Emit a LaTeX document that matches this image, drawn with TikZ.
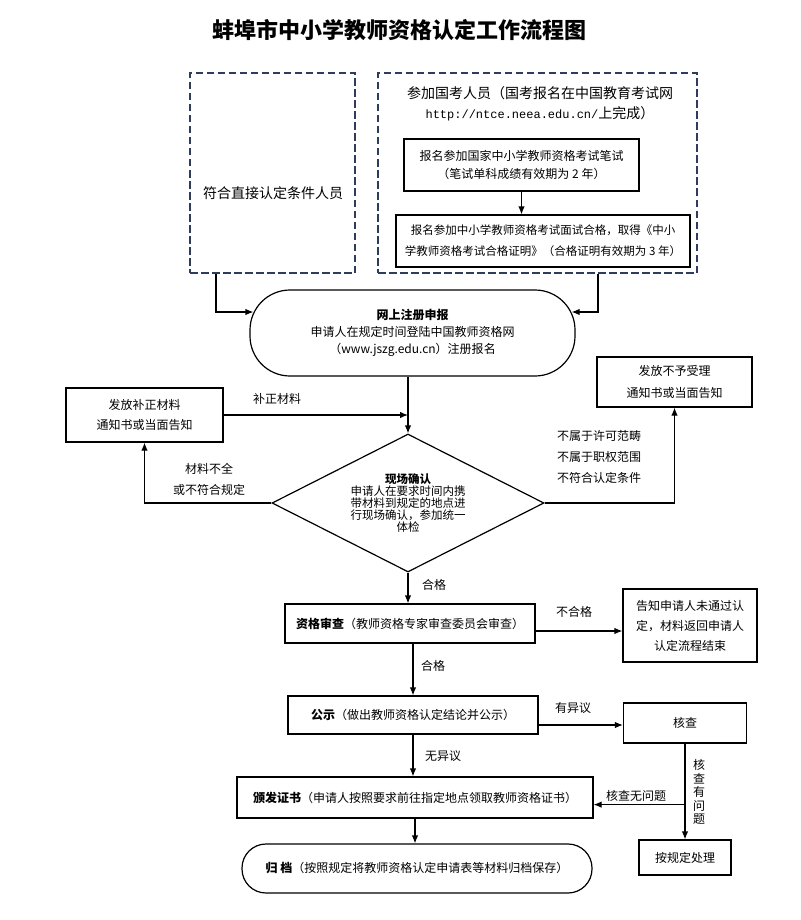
\documentclass[tikz,border=0pt]{standalone}
\usepackage{fontspec}
\setmainfont{Noto Sans CJK SC}
\setmonofont{Liberation Mono}
\usetikzlibrary{shapes.geometric,arrows.meta}
\definecolor{framecol}{HTML}{2E3D5B}
\begin{document}
\begin{tikzpicture}[x=1pt,y=-1pt,
  box/.style={draw,line width=1.2pt,inner sep=0pt,align=center,font=\fontsize{12}{20}\selectfont},
  dbox/.style={draw=framecol,line width=2.6pt,dash pattern=on 7.5pt off 3.5pt,inner sep=0pt},
  lbl/.style={inner sep=0pt,align=center,font=\fontsize{12}{21}\selectfont},
  arr/.style={-{Latex[length=8pt,width=6.5pt]},line width=1.2pt}]
\useasboundingbox (0,0) rectangle (800,920);

\node[font=\fontsize{22}{22}\selectfont\bfseries] (title) at (399,30) {蚌埠市中小学教师资格认定工作流程图};

% two groups of applicants
\node[dbox,minimum width=165pt,minimum height=200pt] (direct) at (272.5,173) {};
\node[lbl,font=\fontsize{14}{14}\selectfont] (directtxt) at (273,193) {符合直接认定条件人员};

\node[dbox,minimum width=319pt,minimum height=200pt] (exam) at (537.5,173) {};
\node[lbl,font=\fontsize{14}{20}\selectfont] (examtxt) at (540,104) {参加国考人员（国考报名在中国教育考试网\\{\ttfamily\fontsize{12}{20}\selectfont http://ntce.neea.edu.cn/}上完成）};
\node[box,minimum width=235pt,minimum height=52pt,font=\fontsize{12}{18}\selectfont] (written) at (521.5,165) {报名参加国家中小学教师资格考试笔试\\（笔试单科成绩有效期为 2 年）};
\node[box,minimum width=294pt,minimum height=52pt,font=\fontsize{11.5}{21}\selectfont] (interview) at (543,241) {报名参加中小学教师资格考试面试合格，取得《中小\\学教师资格考试合格证明》（合格证明有效期为 3 年）};
\draw[arr] (written.south) -- (written.south |- interview.north);

% online registration
\node[box,rounded corners=40pt,minimum width=325pt,minimum height=86pt,font=\fontsize{12}{17}\selectfont] (reg) at (412.5,333) {\textbf{网上注册申报}\\申请人在规定时间登陆中国教师资格网\\（www.jszg.edu.cn）注册报名};
\draw[arr] ([xshift=-56.5pt]direct.south) |- ([xshift=4pt,yshift=21pt]reg.west);
\draw[arr] ([xshift=60.5pt]exam.south) |- ([xshift=-4pt,yshift=21pt]reg.east);

% on-site confirmation
\node[diamond,draw,line width=1.2pt,aspect=2,minimum width=272pt,minimum height=138pt,inner sep=0pt,align=center,font=\fontsize{11.5}{12}\selectfont] (confirm) at (408,503) {\textbf{现场确认}\\申请人在要求时间内携\\带材料到规定的地点进\\行现场确认，参加统一\\体检};
\draw[arr] (reg.south -| confirm.north) -- (confirm.north);

\node[box,minimum width=157pt,minimum height=54pt] (fixnote) at (144.5,415) {发放补正材料\\通知书或当面告知};
\coordinate (merge) at (confirm.north |- fixnote.east);
\draw[arr] (fixnote.east) -- (merge);
\node[lbl] (fixlbl) at (277,399) {补正材料};
\draw[arr] (confirm.west) -| (fixnote.south);
\node[lbl] (lacklbl) at (209,479) {材料不全\\或不符合规定};

\node[box,minimum width=155pt,minimum height=50pt,font=\fontsize{12}{22}\selectfont] (reject) at (674.5,382) {发放不予受理\\通知书或当面告知};
\draw[arr] (confirm.east) -| (reject.south);
\node[lbl,anchor=west,align=left] (rejlbl) at (557,457) {不属于许可范畴\\不属于职权范围\\不符合认定条件};

% review
\node[box,minimum width=250pt,minimum height=39pt] (review) at (410,623.5) {\textbf{资格审查}（教师资格专家审查委员会审查）};
\draw[arr] (confirm.south) -- (confirm.south |- review.north);
\node[lbl] (okA) at (434,585) {合格};

\node[box,minimum width=134pt,minimum height=73pt] (notify) at (690,625.5) {告知申请人未通过认\\定，材料返回申请人\\认定流程结束};
\coordinate (failout) at ([yshift=-7.5pt]review.east);
\draw[arr] (failout) -- (failout -| notify.west);
\node[lbl] (failA) at (574,612) {不合格};

% publicity
\node[box,minimum width=250pt,minimum height=38pt] (publicity) at (413,715) {\textbf{公示}（做出教师资格认定结论并公示）};
\draw[arr] (publicity.north |- review.south) -- (publicity.north);
\node[lbl] (okB) at (433,666) {合格};

\node[box,minimum width=123pt,minimum height=40pt] (check) at (685,723) {核查};
\coordinate (objout) at ([yshift=-10pt]publicity.east);
\draw[arr] (objout) -- (objout -| check.west);
\node[lbl] (objlbl) at (573,708) {有异议};

% certificate and archive
\node[box,minimum width=356pt,minimum height=41pt] (issue) at (415,797.5) {\textbf{颁发证书}（申请人按照要求前往指定地点领取教师资格证书）};
\draw[arr] (publicity.south) -- (publicity.south |- issue.north);
\node[lbl] (noobj) at (443,756) {无异议};

\node[box,minimum width=92pt,minimum height=35pt] (handle) at (685,857.5) {按规定处理};
\draw[arr] (check.south) -- (check.south |- handle.north);
\node[lbl,font=\fontsize{12}{13.5}\selectfont] (problbl) at (699,792) {核\\查\\有\\问\\题};
\coordinate (fork) at ([yshift=-61pt]check.south);
\draw[arr] (fork) -- (fork -| issue.east);
\node[lbl] (noprob) at (636,796) {核查无问题};

\node[box,rounded corners=24pt,minimum width=350pt,minimum height=49pt] (archive) at (417,868.5) {\textbf{归\ 档}（按照规定将教师资格认定申请表等材料归档保存）};
\draw[arr] (issue.south) -- (issue.south |- archive.north);
\end{tikzpicture}
\end{document}
